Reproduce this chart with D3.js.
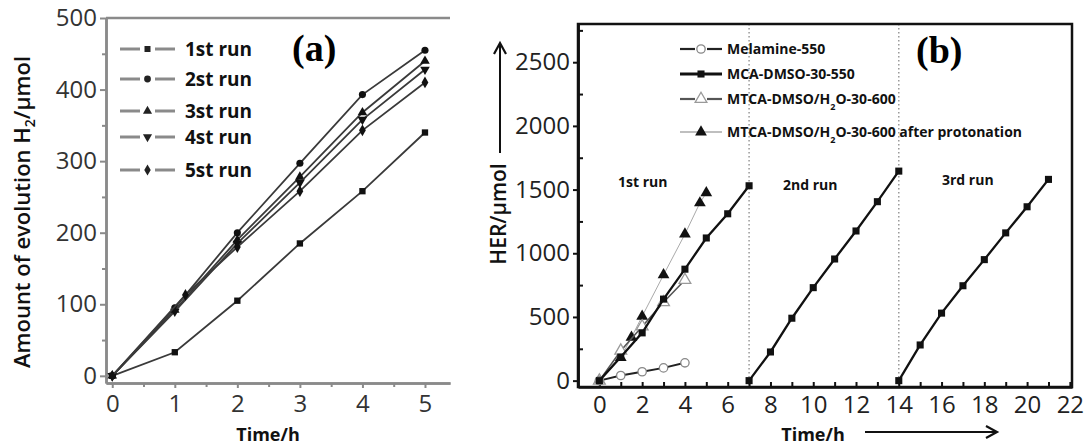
<!DOCTYPE html>
<html>
<head>
<meta charset="utf-8">
<script src="https://cdn.jsdelivr.net/npm/d3@7"></script>
<style>
  body { margin: 0; background: #fff; }
  text { font-family: "Open Sans", sans-serif; }
</style>
</head>
<body>
<script>
// ---- panel (a) data ----
var timeA = [0, 1, 2, 3, 4, 5];
var timeA5 = [0, 1.17, 2, 3, 4, 5];
var run1 = [0, 33, 105, 185, 258, 340];
var run2 = [0, 95, 200, 297, 393, 455];
var run3 = [0, 92, 190, 278, 368, 440];
var run4 = [0, 90, 185, 270, 358, 428];
var run5 = [0, 113, 180, 258, 343, 410];
var runNames = ["1st run", "2st run", "3st run", "4st run", "5st run"];
var aTicks = [0, 100, 200, 300, 400, 500];
var aTimeTicks = [0, 1, 2, 3, 4, 5];

// ---- panel (b) data ----
var melTime = [0, 1, 2, 3, 4];
var melVal = [0, 40, 70, 100, 140];
var mcaTime1 = [0, 1, 2, 3, 4, 5, 6, 7];
var mcaVal1 = [0, 185, 375, 640, 875, 1120, 1310, 1530];
var mcaTime2 = [7, 8, 9, 10, 11, 12, 13, 14];
var mcaVal2 = [0, 225, 490, 730, 955, 1175, 1405, 1645];
var mcaTime3 = [14, 15, 16, 17, 18, 19, 20, 21];
var mcaVal3 = [0, 280, 530, 745, 950, 1160, 1365, 1580];
var mtcaTime = [0, 1, 2, 3, 4];
var mtcaVal = [0, 235, 425, 615, 790];
var protTime = [0, 1, 1.5, 2, 3, 4, 4.7, 5];
var protVal = [0, 180, 340, 505, 830, 1150, 1395, 1475];
var bTicks = [0, 500, 1000, 1500, 2000, 2500];
var bTimeTicks = [0, 2, 4, 6, 8, 10, 12, 14, 16, 18, 20, 22];
var runDividers = [7, 14];
var runLabels = ["1st run", "2nd run", "3rd run"];

function zip(xs, ys) {
	return xs.map(function(x, i) { return [x, ys[i]]; });
}

var svg = d3.select("body").append("svg")
	.attr("width", 1089)
	.attr("height", 448);

// ================= panel (a) =================
var xa = d3.scaleLinear().domain([-0.1, 5.4]).range([106, 450]);
var ya = d3.scaleLinear().domain([-10, 500]).range([383, 18]);
var grayA = "#8a8a8a";

// minor ticks
svg.append("g")
	.attr("transform", "translate(0,383)")
	.call(d3.axisBottom(xa).tickValues([0.5, 1.5, 2.5, 3.5, 4.5]).tickSize(4).tickSizeOuter(0).tickFormat(""));
svg.append("g")
	.attr("transform", "translate(106,0)")
	.call(d3.axisLeft(ya).tickValues([50, 150, 250, 350, 450]).tickSize(4).tickSizeOuter(0).tickFormat(""));

var axA = svg.append("g")
	.attr("transform", "translate(0,383)")
	.call(d3.axisBottom(xa).tickValues(aTimeTicks).tickSize(5).tickSizeOuter(0).tickPadding(7).tickFormat(d3.format("d")));
var ayA = svg.append("g")
	.attr("transform", "translate(106,0)")
	.call(d3.axisLeft(ya).tickValues(aTicks).tickSize(6).tickSizeOuter(0).tickPadding(3).tickFormat(d3.format("d")));

svg.selectAll("g").selectAll("path.domain").attr("stroke", grayA).attr("stroke-width", 2.5);
svg.selectAll("g").selectAll(".tick line").attr("stroke", grayA).attr("stroke-width", 2);
[axA, ayA].forEach(function(g) {
	g.selectAll("text").style("font-size", "24px").attr("fill", "#333");
});

// top border line
svg.append("line")
	.attr("x1", 106).attr("x2", 450)
	.attr("y1", 18).attr("y2", 18)
	.attr("stroke", grayA).attr("stroke-width", 2.5);

var lineA = d3.line().x(function(d) { return xa(d[0]); }).y(function(d) { return ya(d[1]); });

var seriesA = [
	{ pts: zip(timeA, run1), sym: d3.symbolSquare, rot: 0 },
	{ pts: zip(timeA, run2), sym: d3.symbolCircle, rot: 0 },
	{ pts: zip(timeA, run3), sym: d3.symbolTriangle, rot: 0 },
	{ pts: zip(timeA, run4), sym: d3.symbolTriangle, rot: 180 },
	{ pts: zip(timeA5, run5), sym: d3.symbolDiamond, rot: 0 }
];

seriesA.forEach(function(s) {
	svg.append("path")
		.datum(s.pts)
		.attr("fill", "none")
		.attr("stroke", "#3a3a3a")
		.attr("stroke-width", 1.8)
		.attr("d", lineA);
	svg.selectAll(null)
		.data(s.pts)
		.enter().append("path")
		.attr("d", d3.symbol().type(s.sym).size(40))
		.attr("transform", function(d) { return "translate(" + xa(d[0]) + "," + ya(d[1]) + ") rotate(" + s.rot + ")"; })
		.attr("fill", "#111");
});

// legend (a)
var legRowsA = [49, 79, 111, 137, 170];
seriesA.forEach(function(s, i) {
	var y = legRowsA[i];
	svg.append("line").attr("x1", 120).attr("x2", 140).attr("y1", y).attr("y2", y)
		.attr("stroke", grayA).attr("stroke-width", 3);
	svg.append("line").attr("x1", 155).attr("x2", 175).attr("y1", y).attr("y2", y)
		.attr("stroke", grayA).attr("stroke-width", 3);
	svg.append("path")
		.attr("d", d3.symbol().type(s.sym).size(36))
		.attr("transform", "translate(147.5," + y + ") rotate(" + s.rot + ")")
		.attr("fill", "#222");
	svg.append("text")
		.attr("x", 185).attr("y", y)
		.attr("dy", "0.35em")
		.style("font-size", "19px").style("font-weight", "bold")
		.attr("fill", "#111")
		.text(runNames[i]);
});

svg.append("text")
	.attr("x", 292).attr("y", 61)
	.style("font-family", "'Liberation Serif', 'Times New Roman', serif")
	.style("font-size", "38px").style("font-weight", "bold")
	.text("(a)");

// axis titles (a)
var yTitleA = svg.append("text")
	.attr("transform", "translate(30,212) rotate(-90)")
	.attr("text-anchor", "middle")
	.style("font-size", "22px").style("font-weight", 600)
	.attr("fill", "#111");
yTitleA.append("tspan").text("Amount of evolution H");
yTitleA.append("tspan").attr("dy", 5).style("font-size", "14px").text("2");
yTitleA.append("tspan").attr("dy", -5).text("/\u03bcmol");

svg.append("text")
	.attr("x", 268).attr("y", 441)
	.attr("text-anchor", "middle")
	.style("font-size", "18px").style("font-weight", "bold")
	.attr("fill", "#111")
	.text("Time/h");

// ================= panel (b) =================
var xb = d3.scaleLinear().domain([-1, 22.1]).range([578, 1072]);
var yb = d3.scaleLinear().domain([-50, 2800]).range([387, 24]);

var gb = svg.append("g");

// dotted run separators
gb.selectAll(null)
	.data(runDividers)
	.enter().append("line")
	.attr("x1", function(d) { return xb(d); }).attr("x2", function(d) { return xb(d); })
	.attr("y1", 24).attr("y2", 387)
	.attr("stroke", "#999").attr("stroke-width", 1.5)
	.attr("stroke-dasharray", "1.5,2.5");

var xAxisB = gb.append("g")
	.attr("transform", "translate(0,387)")
	.call(d3.axisBottom(xb).tickValues(d3.range(0, 23)).tickSize(-5).tickSizeOuter(0).tickPadding(9)
		.tickFormat(function(d) { return bTimeTicks.indexOf(d) >= 0 ? d : ""; }));
gb.append("g")
	.attr("transform", "translate(578,0)")
	.call(d3.axisLeft(yb).tickValues([250, 750, 1250, 1750, 2250, 2750]).tickSize(-5).tickSizeOuter(0).tickFormat(""));
var yAxisB = gb.append("g")
	.attr("transform", "translate(578,0)")
	.call(d3.axisLeft(yb).tickValues(bTicks).tickSize(5).tickSizeOuter(0).tickPadding(3).tickFormat(d3.format("d")));

gb.selectAll("path.domain").attr("stroke", "#111").attr("stroke-width", 2.5);
gb.selectAll(".tick line").attr("stroke", "#111").attr("stroke-width", 2);
[xAxisB, yAxisB].forEach(function(g) {
	g.selectAll("text").style("font-size", "24px").attr("fill", "#222");
});

// frame
gb.append("rect")
	.attr("x", 578).attr("y", 24)
	.attr("width", 1072 - 578).attr("height", 387 - 24)
	.attr("fill", "none").attr("stroke", "#111").attr("stroke-width", 2.5);

var lineB = d3.line().x(function(d) { return xb(d[0]); }).y(function(d) { return yb(d[1]); });

function drawSeries(pts, lineStyle, sym, symStyle) {
	gb.append("path")
		.datum(pts)
		.attr("fill", "none")
		.attr("stroke", lineStyle.stroke)
		.attr("stroke-width", lineStyle.width)
		.attr("d", lineB);
	gb.selectAll(null)
		.data(pts)
		.enter().append("path")
		.attr("d", d3.symbol().type(sym).size(symStyle.size))
		.attr("transform", function(d) { return "translate(" + xb(d[0]) + "," + yb(d[1]) + ")"; })
		.attr("fill", symStyle.fill)
		.attr("stroke", symStyle.stroke)
		.attr("stroke-width", symStyle.sw);
}

var stProt = { line: { stroke: "#aaa", width: 1 }, sym: d3.symbolTriangle, mk: { size: 60, fill: "#111", stroke: "none", sw: 0 } };
var stMtca = { line: { stroke: "#555", width: 1.6 }, sym: d3.symbolTriangle, mk: { size: 60, fill: "#fff", stroke: "#999", sw: 1.3 } };
var stMel = { line: { stroke: "#222", width: 2 }, sym: d3.symbolCircle, mk: { size: 55, fill: "#fff", stroke: "#888", sw: 1.3 } };
var stMca = { line: { stroke: "#111", width: 2.3 }, sym: d3.symbolSquare, mk: { size: 50, fill: "#111", stroke: "none", sw: 0 } };

drawSeries(zip(protTime, protVal), stProt.line, stProt.sym, stProt.mk);
drawSeries(zip(mtcaTime, mtcaVal), stMtca.line, stMtca.sym, stMtca.mk);
drawSeries(zip(melTime, melVal), stMel.line, stMel.sym, stMel.mk);
drawSeries(zip(mcaTime1, mcaVal1), stMca.line, stMca.sym, stMca.mk);
drawSeries(zip(mcaTime2, mcaVal2), stMca.line, stMca.sym, stMca.mk);
drawSeries(zip(mcaTime3, mcaVal3), stMca.line, stMca.sym, stMca.mk);

// legend (b)
var legB = [
	{ st: stMel, y: 49, gap: true, parts: ["Melamine-550"] },
	{ st: stMca, y: 74, gap: false, parts: ["MCA-DMSO-30-550"] },
	{ st: stMtca, y: 99, gap: true, parts: ["MTCA-DMSO/H", "2", "O-30-600"] },
	{ st: stProt, y: 132, gap: false, parts: ["MTCA-DMSO/H", "2", "O-30-600 after protonation"] }
];
legB.forEach(function(l) {
	if (l.gap) {
		gb.append("line").attr("x1", 680).attr("x2", 695).attr("y1", l.y).attr("y2", l.y)
			.attr("stroke", l.st.line.stroke).attr("stroke-width", 2.2);
		gb.append("line").attr("x1", 707).attr("x2", 722).attr("y1", l.y).attr("y2", l.y)
			.attr("stroke", l.st.line.stroke).attr("stroke-width", 2.2);
	} else {
		gb.append("line").attr("x1", 680).attr("x2", 722).attr("y1", l.y).attr("y2", l.y)
			.attr("stroke", l.st.line.stroke).attr("stroke-width", l.st.line.width + 0.5);
	}
	gb.append("path")
		.attr("d", d3.symbol().type(l.st.sym).size(l.st.mk.size))
		.attr("transform", "translate(701," + l.y + ")")
		.attr("fill", l.st.mk.fill).attr("stroke", l.st.mk.stroke).attr("stroke-width", l.st.mk.sw);
	var t = gb.append("text")
		.attr("x", 727).attr("y", l.y).attr("dy", "0.35em")
		.style("font-size", "14px").style("font-weight", "bold")
		.attr("fill", "#111");
	t.append("tspan").text(l.parts[0]);
	if (l.parts.length > 1) {
		t.append("tspan").attr("dy", 6).style("font-size", "9px").text(l.parts[1]);
		t.append("tspan").attr("dy", -6).text(l.parts[2]);
	}
});

gb.append("text")
	.attr("x", 916).attr("y", 63)
	.style("font-family", "'Liberation Serif', 'Times New Roman', serif")
	.style("font-size", "38px").style("font-weight", "bold")
	.text("(b)");

// run labels
var runLabelPos = [[618, 182], [783, 185], [942, 180]];
runLabels.forEach(function(r, i) {
	gb.append("text")
		.attr("x", runLabelPos[i][0]).attr("y", runLabelPos[i][1]).attr("dy", "0.35em")
		.style("font-size", "14px").style("font-weight", "bold")
		.attr("fill", "#111")
		.text(r);
});

// axis titles (b) with arrows
gb.append("text")
	.attr("transform", "translate(506,214) rotate(-90)")
	.attr("text-anchor", "middle")
	.style("font-size", "21px").style("font-weight", 600)
	.attr("fill", "#111")
	.text("HER/\u03bcmol");
gb.append("line").attr("x1", 500).attr("x2", 500).attr("y1", 153).attr("y2", 45)
	.attr("stroke", "#111").attr("stroke-width", 2);
gb.append("path").attr("d", "M494,54 L500,43 L506,54")
	.attr("fill", "none").attr("stroke", "#111").attr("stroke-width", 2.2);

gb.append("text")
	.attr("x", 813).attr("y", 441)
	.attr("text-anchor", "middle")
	.style("font-size", "18px").style("font-weight", "bold")
	.attr("fill", "#111")
	.text("Time/h");
gb.append("line").attr("x1", 865).attr("x2", 995).attr("y1", 432).attr("y2", 432)
	.attr("stroke", "#111").attr("stroke-width", 2);
gb.append("path").attr("d", "M986,426 L997,432 L986,438")
	.attr("fill", "none").attr("stroke", "#111").attr("stroke-width", 2.2);
</script>
</body>
</html>
